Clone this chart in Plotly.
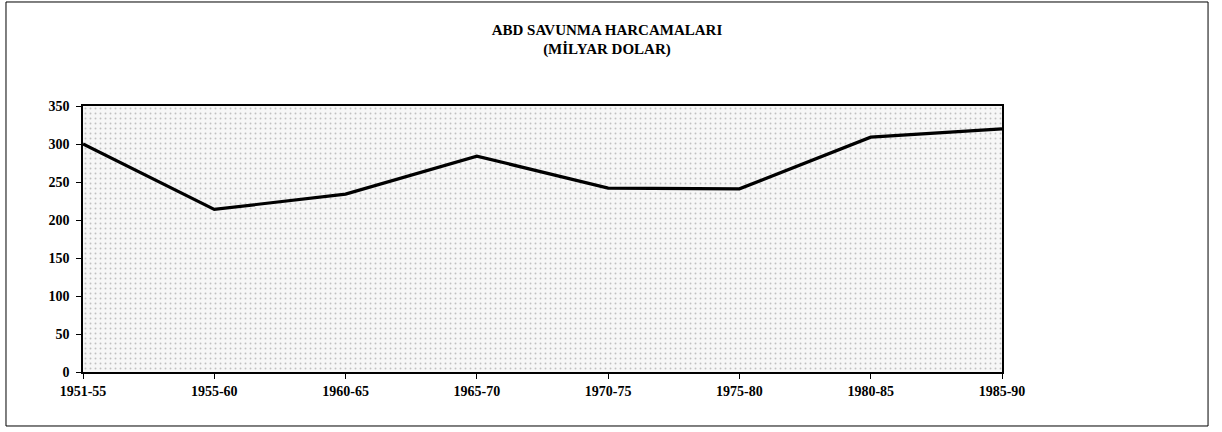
import plotly.graph_objects as go

periods = ["1951-55", "1955-60", "1960-65", "1965-70", "1970-75", "1975-80", "1980-85", "1985-90"]
spending = [300, 214, 234, 284, 242, 241, 309, 320]
y_ticks = [0, 50, 100, 150, 200, 250, 300, 350]
Y_MAX = 350

font_family = "Liberation Serif"

fig = go.Figure()

# stippled background of the plot area
fig.add_trace(go.Scatter(
    x=periods, y=[Y_MAX] * len(periods), mode="lines",
    line=dict(width=0, color="rgba(0,0,0,0)"),
    fill="tozeroy", fillcolor="rgba(255,255,255,0)",
    fillpattern=dict(shape=".", size=5, solidity=0.12, fgcolor="#8a8a8a", bgcolor="#f7f7f7"),
    hoverinfo="skip", showlegend=False,
))

fig.add_trace(go.Scatter(
    x=periods, y=spending, mode="lines",
    line=dict(color="black", width=3.2),
    showlegend=False,
))

fig.update_layout(
    width=1222, height=432,
    margin=dict(l=83, r=220, t=106, b=60),
    paper_bgcolor="white", plot_bgcolor="white",
    font=dict(family=font_family, color="black", size=14),
    title=dict(
        text="<b>ABD SAVUNMA HARCAMALARI<br>(MİLYAR DOLAR)</b>",
        x=0.4967, xref="container", xanchor="center",
        y=0.92, yanchor="middle",
        font=dict(family=font_family, size=15, color="black"),
    ),
    shapes=[dict(
        type="rect", xref="paper", yref="paper",
        x0=-0.0838, x1=1.2242, y0=-0.203, y1=1.391,
        line=dict(color="black", width=1), fillcolor="rgba(0,0,0,0)", layer="below",
    )],
)

fig.update_xaxes(
    type="category", range=[0, len(periods) - 1],
    showline=True, linecolor="black", linewidth=1.5, mirror=True,
    ticks="outside", ticklen=5, tickcolor="black",
    showgrid=False, zeroline=False,
    tickfont=dict(family=font_family, size=14, color="black", weight="bold"),
    ticklabelstandoff=0,
)
fig.update_yaxes(
    range=[0, Y_MAX], tickvals=y_ticks,
    showline=True, linecolor="black", linewidth=1.5, mirror=True,
    ticks="outside", ticklen=5, tickcolor="black",
    showgrid=False, zeroline=False,
    tickfont=dict(family=font_family, size=14, color="black", weight="bold"),
    ticklabelstandoff=4,
)

fig.write_html(
    "out.html",
    config={"displayModeBar": False},
    post_script="document.body.style.margin='0';document.body.style.overflow='hidden';",
)
